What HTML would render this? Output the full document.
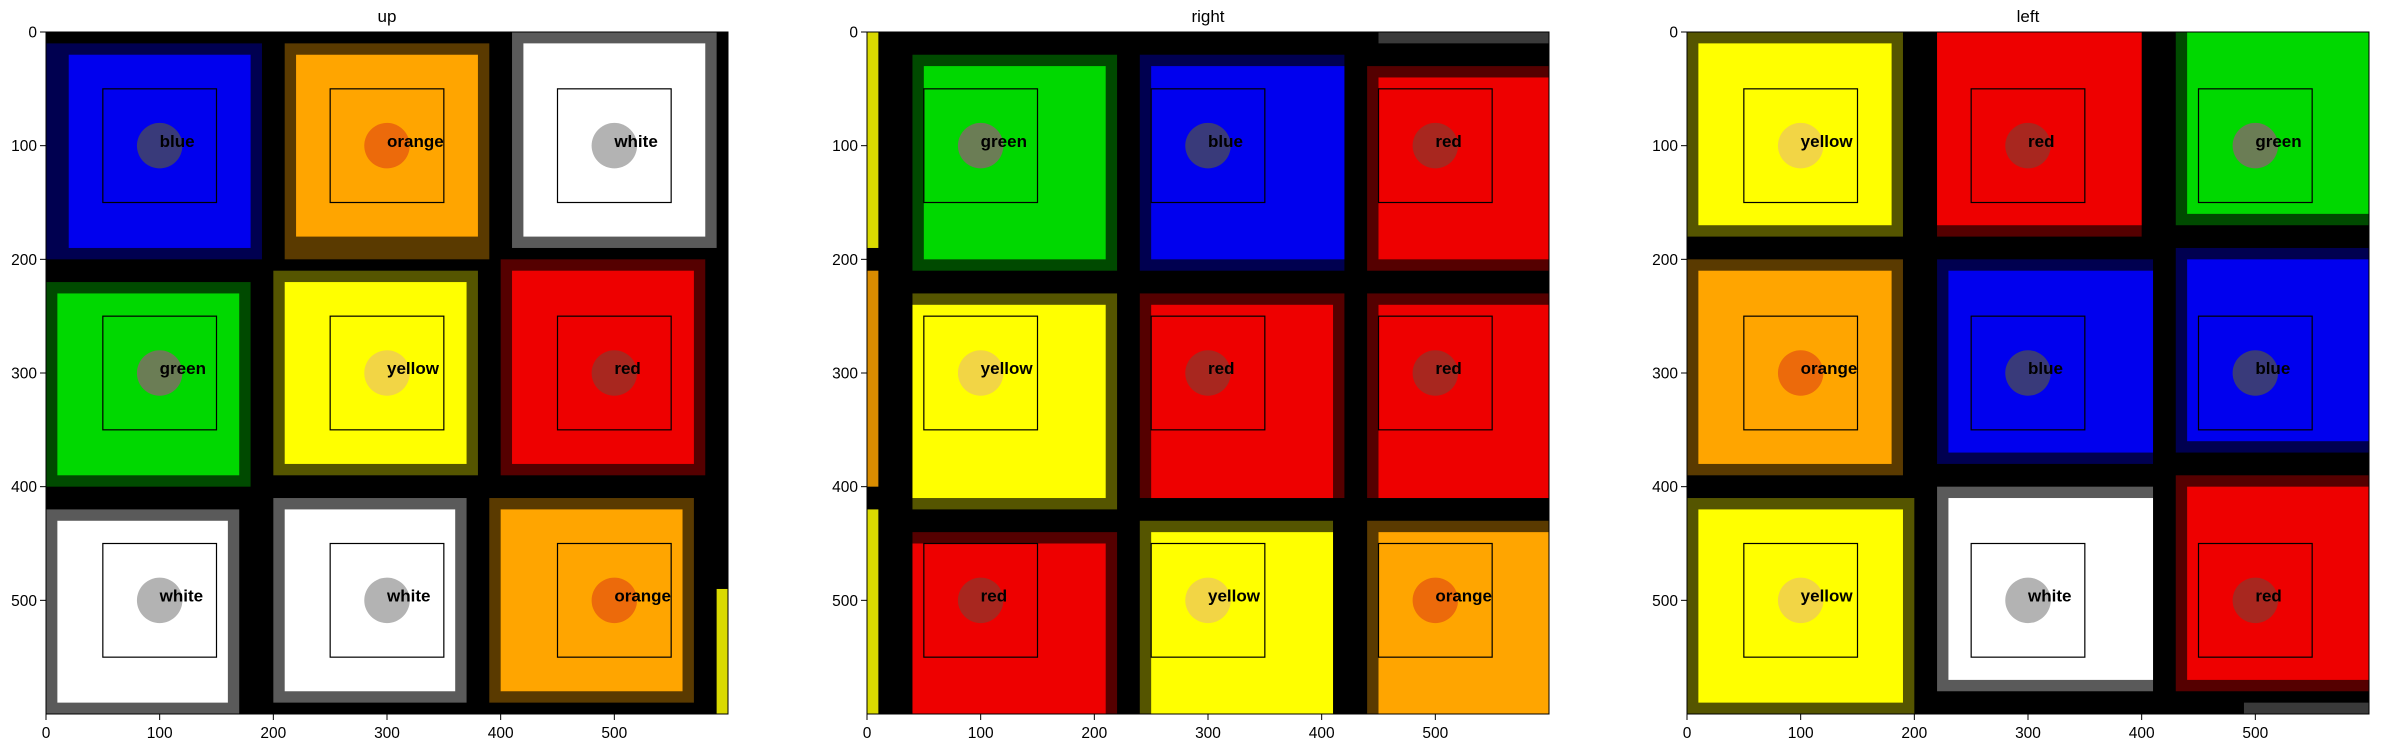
<!DOCTYPE html>
<html><head><meta charset="utf-8">
<style>
html,body{margin:0;padding:0;background:#fff;width:2381px;height:749px;overflow:hidden;font-family:"Liberation Sans","DejaVu Sans",sans-serif;}
svg{position:absolute;left:0;top:0;}
</style></head>
<body>
<svg id="chart" width="2381" height="749" viewBox="0 0 2381 749" xmlns="http://www.w3.org/2000/svg"></svg>
<script>
// ---- data ----
const panelTitles = ["up", "right", "left"];
const tickValues = [0, 100, 200, 300, 400, 500];
const colorNames = {
  blue: "#0000ee", orange: "#ffa500", white: "#ffffff",
  green: "#00d800", yellow: "#ffff00", red: "#ee0000"
};
const ringColors = {
  blue: "#000050", orange: "#5a3a00", white: "#5a5a5a",
  green: "#004a00", yellow: "#555500", red: "#550000"
};
const dotColors = {
  blue: "#393a7a", orange: "#ec6a0b", white: "#b3b3b3",
  green: "#6b7d55", yellow: "#f2d545", red: "#a8271f"
};
// detected labels per panel (row-major)
const labelsUp = ["blue","orange","white","green","yellow","red","white","white","orange"];
const labelsRight = ["green","blue","red","yellow","red","red","red","yellow","orange"];
const labelsLeft = ["yellow","red","green","orange","blue","blue","yellow","white","red"];
// sticker extents in image units [x0,y0,x1,y1] (outer incl. shaded ring) and inner solid
const outerUp = [[0,10,190,200],[210,10,390,200],[410,0,590,190],[0,220,180,400],[200,210,380,390],[400,200,580,390],[0,420,170,600],[200,410,370,590],[390,410,570,590]];
const innerUp = [[20,20,180,190],[220,20,380,180],[420,10,580,180],[10,230,170,390],[210,220,370,380],[410,210,570,380],[10,430,160,590],[210,420,360,580],[400,420,560,580]];
const outerRight = [[40,20,220,210],[240,20,420,210],[440,30,600,210],[40,230,220,420],[240,230,420,410],[440,230,600,410],[40,440,220,600],[240,430,410,600],[440,430,600,600]];
const innerRight = [[50,30,210,200],[250,30,420,200],[450,40,600,200],[40,240,210,410],[250,240,410,410],[450,240,600,410],[40,450,210,600],[250,440,410,600],[450,440,600,600]];
const outerLeft = [[0,0,190,180],[220,0,400,180],[430,0,600,170],[0,200,190,390],[220,200,410,380],[430,190,600,370],[0,410,200,600],[220,400,410,580],[430,390,600,580]];
const innerLeft = [[10,10,180,170],[220,0,400,170],[440,0,600,160],[10,210,180,380],[230,210,410,370],[440,200,600,360],[10,420,190,590],[230,410,410,570],[440,400,600,570]];
// side strips [x0,y0,x1,y1,color]
const stripsUp = [[590,490,600,600,"yellow"]];
const stripsRight = [[0,0,10,190,"yellow"],[0,210,10,400,"orange"],[0,420,10,600,"yellow"],[450,0,600,10,"white"]];
const stripsLeft = [[490,590,600,600,"white"]];
const boxCenters = [100, 300, 500];

const panels = [
  {title: panelTitles[0], labels: labelsUp, outer: outerUp, inner: innerUp, strips: stripsUp, left: 46},
  {title: panelTitles[1], labels: labelsRight, outer: outerRight, inner: innerRight, strips: stripsRight, left: 867},
  {title: panelTitles[2], labels: labelsLeft, outer: outerLeft, inner: innerLeft, strips: stripsLeft, left: 1687}
];
const TOP = 32, SIZE = 682, S = SIZE / 600;
const NS = "http://www.w3.org/2000/svg";
const svg = document.getElementById("chart");
function mk(tag, attrs, parent) {
  const e = document.createElementNS(NS, tag);
  for (const k in attrs) e.setAttribute(k, attrs[k]);
  (parent || svg).appendChild(e);
  return e;
}
panels.forEach((p, pi) => {
  const sx = v => p.left + v * S;
  const sy = v => TOP + v * S;
  const g = mk("g", {});
  
  
  const bg = mk("rect", {x: sx(0), y: sy(0), width: SIZE, height: SIZE, fill: "#000"}, g);
  
  
  p.strips.forEach(s => {
    const r = mk("rect", {x: sx(s[0]), y: sy(s[1]), width: (s[2]-s[0])*S, height: (s[3]-s[1])*S, fill: s[4] === "white" ? "#444" : colorNames[s[4]], opacity: 0.85}, g);
    
    
  });
  p.labels.forEach((lab, i) => {
    const o = p.outer[i], n = p.inner[i];
    const ro = mk("rect", {x: sx(o[0]), y: sy(o[1]), width: (o[2]-o[0])*S, height: (o[3]-o[1])*S, fill: ringColors[lab]}, g);
    
    
    const ri = mk("rect", {x: sx(n[0]), y: sy(n[1]), width: (n[2]-n[0])*S, height: (n[3]-n[1])*S, fill: colorNames[lab]}, g);
    
    
    const cx = boxCenters[i % 3], cy = boxCenters[Math.floor(i / 3)];
    const box = mk("rect", {x: sx(cx-50), y: sy(cy-50), width: 100*S, height: 100*S, fill: "none", stroke: "#000", "stroke-width": 1.2}, g);
    
    
    const c = mk("circle", {cx: sx(cx), cy: sy(cy), r: 20*S, fill: dotColors[lab]}, g);
    
    
    const t = mk("text", {x: sx(cx), y: sy(cy+1), "font-size": 17, "font-weight": "bold", fill: "#000"}, g);
    t.textContent = lab;
    
    
  });
  const frame = mk("rect", {x: sx(0), y: sy(0), width: SIZE, height: SIZE, fill: "none", stroke: "#000", "stroke-width": 1}, g);
  
  
  const title = mk("text", {x: p.left + SIZE/2, y: 22, "font-size": 17, "text-anchor": "middle", fill: "#000"}, g);
  title.textContent = p.title;
  
  
  tickValues.forEach(v => {
    const yl = mk("line", {x1: sx(0)-6, x2: sx(0), y1: sy(v), y2: sy(v), stroke: "#000", "stroke-width": 1}, g);
    
    
    const yt = mk("text", {x: sx(0)-9, y: sy(v)+5.5, "font-size": 15.5, "text-anchor": "end", fill: "#000"}, g);
    yt.textContent = v;
    
    
    const xl = mk("line", {x1: sx(v), x2: sx(v), y1: sy(600), y2: sy(600)+6, stroke: "#000", "stroke-width": 1}, g);
    
    
    const xt = mk("text", {x: sx(v), y: sy(600)+24, "font-size": 15.5, "text-anchor": "middle", fill: "#000"}, g);
    xt.textContent = v;
    
    
  });
});
</script>
</body></html>
